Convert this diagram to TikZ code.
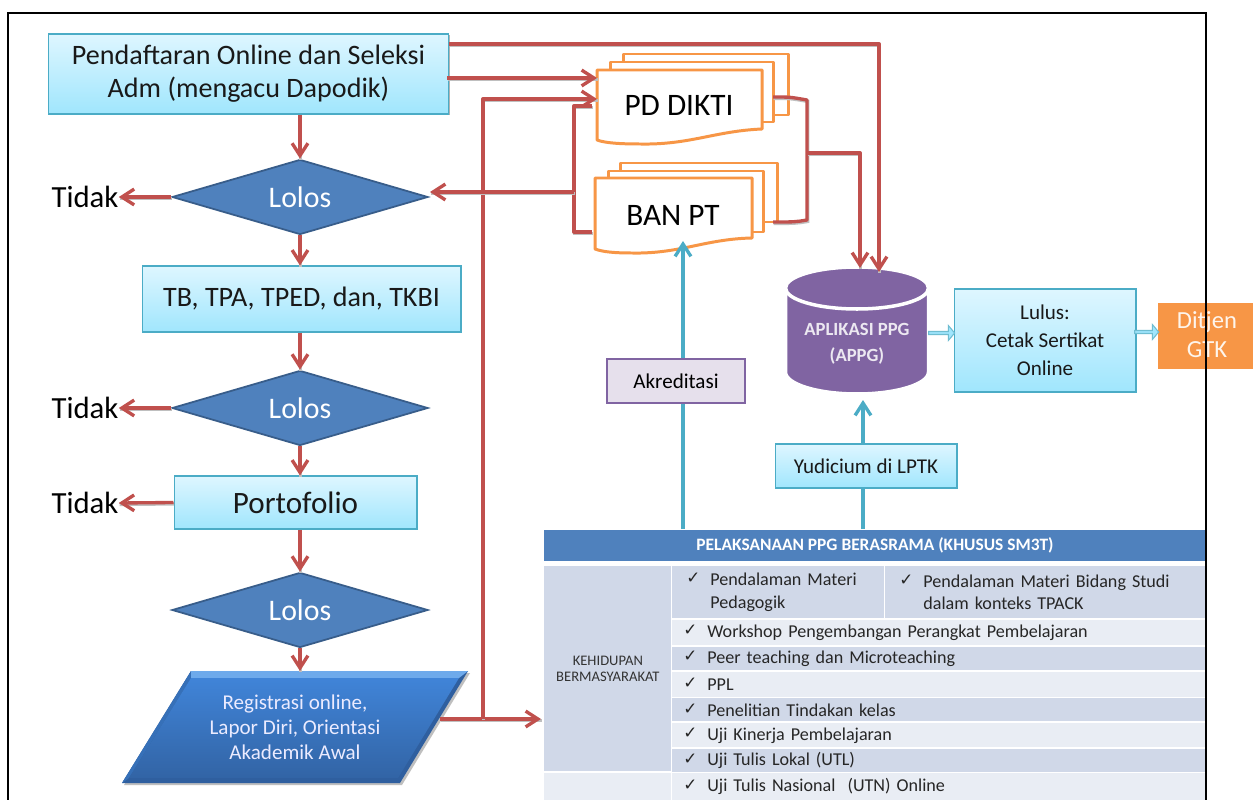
\documentclass[tikz,border=0pt]{standalone}
\usepackage{fontspec}
\setmainfont{Carlito}
\newfontfamily\tickfont{DejaVu Sans}
\usetikzlibrary{arrows.meta}
\usetikzlibrary{positioning}
\usetikzlibrary{shapes.geometric}
\usetikzlibrary{shapes.arrows}
\usetikzlibrary{shadows}

\definecolor{redline}{HTML}{C0504D}
\definecolor{tealline}{HTML}{4BACC6}
\definecolor{sheetline}{HTML}{F79646}
\definecolor{rowdark}{HTML}{D0D8E8}
\definecolor{rowlight}{HTML}{E9EDF4}
\definecolor{headblue}{HTML}{4F81BD}
\definecolor{headedge}{HTML}{385D8A}
\definecolor{appgpurple}{HTML}{8064A2}
\definecolor{akreditfill}{HTML}{E6E0EC}
\definecolor{boxtop}{HTML}{DEF6FF}
\definecolor{boxbottom}{HTML}{A0E6FD}
\definecolor{regbevel}{HTML}{6EAAEB}
\definecolor{regedge}{HTML}{2F5F9F}
\definecolor{regtop}{HTML}{4084D8}
\definecolor{regbottom}{HTML}{3264A5}

\newcommand{\cek}{\makebox[0.48cm][l]{\raisebox{1pt}{\tickfont\fontsize{9.5}{13}\selectfont ✓}}}
\newcommand{\sheet}[4]{\draw [sheetedge] (#1, #2) rectangle (#3, #4);}

\tikzset{
  softshadow/.style={drop shadow={shadow xshift=0.6pt, shadow yshift=-0.8pt, opacity=0.3, fill=black}},
  lightbox/.style={draw=tealline, line width=0.6pt, top color=boxtop, bottom color=boxbottom,
    softshadow, inner sep=0pt, align=center, text=black!90},
  decision/.style={diamond, draw=headedge, line width=1pt, fill=headblue, aspect=3.4,
    minimum width=5.12cm, minimum height=1.5cm, inner sep=0pt, text=white, font=\fontsize{17}{20}\selectfont},
  noanswer/.style={text=black, inner sep=0pt, font=\fontsize{17.5}{20}\selectfont},
  redarrow/.style={draw=redline, line width=1.9pt, -{Straight Barb[length=7pt, width=9pt, line width=1.9pt]},
    preaction={draw=black!25, line width=1.9pt, -, transform canvas={shift={(0.4pt,-0.8pt)}}}},
  redplain/.style={draw=redline, line width=1.9pt, line join=round,
    preaction={draw=black!25, line width=1.9pt, transform canvas={shift={(0.4pt,-0.8pt)}}}},
  tealarrow/.style={draw=tealline, line width=1.9pt, -{Straight Barb[length=7pt, width=9pt, line width=1.9pt]}},
  tealplain/.style={draw=tealline, line width=1.9pt},
  sheetedge/.style={draw=sheetline, line width=1.7pt, fill=white, line join=round},
  sheettext/.style={inner sep=0pt, text=black, font=\fontsize{17.8}{20}\selectfont},
  hollowarrow/.style={single arrow, draw=tealline!80, line width=0.6pt, fill=boxbottom,
    single arrow head extend=1.2pt, single arrow head indent=0pt, single arrow tip angle=100, inner sep=0pt, minimum height=0.52cm, minimum width=0.3cm},
  tablecell/.style={anchor=north west, inner xsep=0.22cm, inner ysep=0pt, text width=10.24cm, minimum width=10.68cm,
    align=left, text=black!85, font=\fontsize{10.3}{13}\selectfont},
}

\begin{document}
\begin{tikzpicture}[x=0.02cm, y=-0.02cm]
    \useasboundingbox [fill=white] (0, 0) rectangle (1253, 800);

    % left column
    \node [lightbox, minimum width=8.02cm, minimum height=1.6cm, font=\fontsize{16}{18.7}\selectfont] (pendaftaran) at (248.5, 74)
      {Pendaftaran Online dan Seleksi\\Adm (mengacu Dapodik)};
    \node [decision] (lolosa) at (300, 197) {Lolos};
    \node [lightbox, minimum width=6.38cm, minimum height=1.32cm, font=\fontsize{16}{18}\selectfont] (tes) at (301.5, 299)
      {TB, TPA, TPED, dan, TKBI};
    \node [decision] (lolosb) at (300, 408) {Lolos};
    \node [lightbox, minimum width=4.86cm, minimum height=1.06cm, font=\fontsize{17.7}{22}\selectfont] (portofolio) at (295.5, 502.5)
      {Portofolio};
    \node [decision] (lolosc) at (300, 610) {Lolos};
    \node [noanswer] (tidaka) at (85, 197) {Tidak};
    \node [noanswer] (tidakb) at (85, 408) {Tidak};
    \node [noanswer] (tidakc) at (85, 503) {Tidak};

    % registrasi block
    \fill [black!25] (124, 785) -- (402, 785) -- (470, 673) -- (193, 673) -- cycle;
    \fill [regedge] (122, 783) -- (400, 783) -- (468, 671) -- (191, 671) -- cycle;
    \fill [regtop!85!black] (122, 783) -- (129, 778) -- (191, 678) -- (191, 671) -- cycle;
    \fill [regbevel] (191, 671) -- (468, 671) -- (459, 678) -- (191, 678) -- cycle;
    \shade [top color=regtop, bottom color=regbottom]
      (129, 778) -- (398, 778) -- (459, 678) -- (191, 678) -- cycle;
    \node [text=white!92!blue, align=center, inner sep=0pt, font=\fontsize{12}{14.2}\selectfont] (registrasi) at (295, 727)
      {Registrasi online,\\Lapor Diri, Orientasi\\Akademik Awal};
    \coordinate (registrasikanan) at (440, 719);
    \coordinate (registrasiatas) at (300, 671);

    % table
    \node [fill=headblue, minimum width=13.24cm, minimum height=0.62cm, inner sep=0pt, text=white,
      font=\bfseries\fontsize{9.9}{12}\selectfont] (kepala) at (875, 545.5) {PELAKSANAAN PPG BERASRAMA (KHUSUS SM3T)};
    \node [fill=rowdark, anchor=north west, minimum width=2.54cm, minimum height=4.1cm, inner sep=0pt, align=center,
      text=black!80, font=\fontsize{8.3}{8.6}\selectfont] (kehidupan) at (544, 566) {KEHIDUPAN\\BERMASYARAKAT};
    \fill [rowlight] (544, 773) rectangle (671, 800);
    \node [tablecell, fill=rowdark, text width=3.8cm, minimum width=4.24cm, minimum height=1.04cm] (pedagogik) at (672, 566)
      {\hspace*{0.06cm}\cek Pendalaman Materi\\\hspace*{0.54cm}Pedagogik};
    \node [tablecell, fill=rowdark, text width=5.98cm, minimum width=6.42cm, minimum height=1.04cm] (bidangstudi) at (885, 566)
      {\hspace*{0.06cm}\cek Pendalaman Materi Bidang Studi\\\hspace*{0.54cm}dalam konteks TPACK};
    \node [tablecell, fill=rowlight, minimum height=0.5cm] (workshop) at (672, 620) {\cek Workshop Pengembangan Perangkat Pembelajaran};
    \node [tablecell, fill=rowdark, minimum height=0.46cm] (peer) at (672, 647) {\cek Peer teaching dan Microteaching};
    \node [tablecell, fill=rowlight, minimum height=0.5cm] (ppl) at (672, 671.5) {\cek PPL};
    \node [tablecell, fill=rowdark, minimum height=0.46cm] (penelitian) at (672, 698) {\cek Penelitian Tindakan kelas};
    \node [tablecell, fill=rowlight, minimum height=0.48cm] (kinerja) at (672, 723) {\cek Uji Kinerja Pembelajaran};
    \node [tablecell, fill=rowdark, minimum height=0.46cm] (utl) at (672, 749) {\cek Uji Tulis Lokal (UTL)};
    \node [tablecell, fill=rowlight, minimum height=0.54cm] (utn) at (672, 773) {\cek Uji Tulis Nasional\ \ (UTN) Online};

    % sheets
    \sheet{623}{54}{788}{115}
    \sheet{610}{62}{773}{122}
    \draw [sheetedge] (597, 70) -- (762, 70) -- (762, 129) .. controls (715, 131) and (690, 145) .. (640, 144) .. controls (620, 144) and (605, 143) .. (597, 140) -- cycle;
    \node [sheettext] (pddikti) at (679, 105) {PD DIKTI};
    \sheet{620}{163}{777}{222}
    \sheet{608}{171}{763}{232}
    \draw [sheetedge] (595, 178) -- (752, 178) -- (752, 238) .. controls (705, 239) and (680, 254) .. (632, 253) .. controls (615, 253) and (603, 252) .. (595, 249) -- cycle;
    \node [sheettext] (banpt) at (673, 215) {BAN PT};

    % right part
    \draw [draw=white, line width=2pt, fill=appgpurple] (785.5, 288) -- (785.5, 372) arc [start angle=180, end angle=0, x radius=71.5, y radius=22] -- (928.5, 288) -- cycle;
    \draw [draw=white, line width=2pt, fill=appgpurple] (857, 288) ellipse [x radius=71.5, y radius=21];
    \node [inner sep=0pt, align=center, text=white!85!appgpurple, font=\bfseries\fontsize{10.6}{15}\selectfont] (appg) at (857, 344)
      {APLIKASI PPG\\(APPG)};
    \node [lightbox, minimum width=3.64cm, minimum height=2.06cm, font=\fontsize{12}{16}\selectfont] (lulus) at (1045, 340.5)
      {Lulus:\\Cetak Sertikat\\Online};
    \node [fill=sheetline, draw=white, line width=1.5pt, anchor=north west, minimum width=2.25cm, minimum height=1.38cm, inner sep=0pt] (ditjenkotak) at (1155, 300) {};
    \node [text=white!90!sheetline, align=center, inner sep=0pt, font=\fontsize{14}{16.5}\selectfont] (ditjen) at (1207, 335) {Ditjen\\GTK};
    \node [lightbox, minimum width=3.64cm, minimum height=0.88cm, font=\fontsize{12}{13}\selectfont] (yudicium) at (866, 466) {Yudicium di LPTK};
    \node [draw=appgpurple, line width=0.6pt, fill=akreditfill, softshadow, minimum width=2.76cm, minimum height=0.88cm, inner sep=0pt,
      font=\fontsize{12}{13}\selectfont] (akreditasi) at (676, 381) {Akreditasi};
    \node [hollowarrow] (panaha) at (941, 333) {};
    \node [hollowarrow, minimum height=0.48cm] (panahb) at (1146, 332) {};

    % junctions
    \coordinate (atas) at (449, 44);
    \coordinate (tengah) at (447, 78);
    \coordinate (pdkiria) at (597, 78);
    \coordinate (pdkirib) at (597, 99);
    \coordinate (simpul) at (483, 719);
    \coordinate (tabelmasuk) at (541, 719);
    \coordinate (pdbawah) at (592, 106);
    \coordinate (banbawah) at (592, 232);
    \coordinate (cabangkiri) at (574, 192);
    \coordinate (lolosatujuan) at (430, 192);
    \coordinate (pdkanan) at (773, 97);
    \coordinate (bankanan) at (773, 222);
    \coordinate (cabangkanan) at (807, 153);
    \coordinate (appgatasa) at (860, 268);
    \coordinate (appgatasb) at (879, 272);
    \coordinate (akarkiri) at (683, 529);
    \coordinate (ujungbanpt) at (683, 241);
    \coordinate (akarkanan) at (863, 529);
    \coordinate (appgbawah) at (863, 400);

    % connectors
    \draw [redarrow] (lolosa.north |- pendaftaran.south) -- (lolosa.north);
    \draw [redarrow] (lolosa.south) -- (lolosa.south |- tes.north);
    \draw [redarrow] (lolosb.north |- tes.south) -- (lolosb.north);
    \draw [redarrow] (lolosb.south) -- (lolosb.south |- portofolio.north);
    \draw [redarrow] (lolosc.north |- portofolio.south) -- (lolosc.north);
    \draw [redarrow] (lolosc.south) -- (registrasiatas);
    \draw [redarrow] (lolosa.west) -- (tidaka.east);
    \draw [redarrow] (lolosb.west) -- (tidakb.east);
    \draw [redarrow] (portofolio.west) -- (tidakc.east);
    \draw [redarrow, line join=round] (atas) -| (appgatasb);
    \draw [redarrow] (tengah) -- (pdkiria);
    \draw [redarrow] (registrasikanan) -- (tabelmasuk);
    \draw [redarrow, line join=round] (simpul) |- (pdkirib);
    \draw [redplain] (pdbawah) -| (cabangkiri) |- (banbawah);
    \draw [redarrow] (cabangkiri) -- (lolosatujuan);
    \draw [redplain] (pdkanan) .. controls (790, 97) .. (807, 100) -- (807, 220) .. controls (795, 222) .. (bankanan);
    \draw [redarrow, line join=round] (cabangkanan) -| (appgatasa);
    \draw [tealplain] (akarkiri) -- (akreditasi.south -| akarkiri);
    \draw [tealarrow] (akreditasi.north -| akarkiri) -- (ujungbanpt);
    \draw [tealplain] (akarkanan) -- (yudicium.south -| akarkanan);
    \draw [tealarrow] (yudicium.north -| akarkanan) -- (appgbawah);

    % frame
    \draw [black, line width=1.1pt] (8, 800) -- (8, 13) -- (1206, 13) -- (1206, 800);
\end{tikzpicture}
\end{document}
